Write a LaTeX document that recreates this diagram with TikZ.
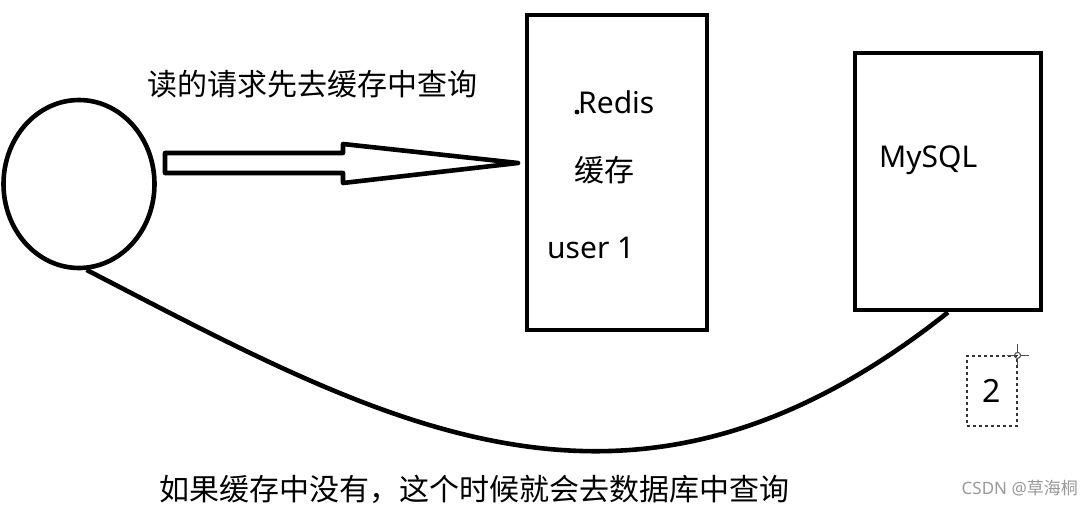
\documentclass[tikz,border=0pt]{standalone}
\usepackage{fontspec}
\setmainfont{Noto Sans}
\newfontfamily\cjk{Noto Sans CJK SC}
\usetikzlibrary{shapes.geometric}
\begin{document}
\begin{tikzpicture}[x=1pt,y=-1pt,
  thick line/.style={line width=4.6pt},
  boxnode/.style={draw,thick line,rectangle,inner sep=0pt},
  bigtext/.style={inner sep=0pt,font=\fontsize{30}{36}\selectfont},
  cjktext/.style={inner sep=0pt,font=\cjk\fontsize{30}{36}\selectfont},
  hollowarrow/.style={draw,thick line,line join=round},
]
\useasboundingbox (0,0) rectangle (1082,504);
\fill[white] (0,0) rectangle (1082,504);

% client ellipse
\node[draw,thick line,ellipse,minimum width=151pt,minimum height=168pt,inner sep=0pt] (user) at (79,184) {};

% Redis box
\node[boxnode,minimum width=180pt,minimum height=315pt] (redis) at (617,172.5) {};
% MySQL box
\node[boxnode,minimum width=186pt,minimum height=257pt] (mysql) at (948,181.5) {};

% big hollow arrow
\coordinate (atail) at (165,163);
\coordinate (atip) at (518,163);
\draw[hollowarrow] ([yshift=10pt]atail) -- (343,153) -- (343,144) -- (atip)
  -- (343,183) -- (343,173) -- ([yshift=-10pt]atail) -- cycle;

% curve from client to MySQL
\draw[thick line] (user.275) .. controls (387,425) and (630,565) .. (mysql.south);

% texts
\node[cjktext,anchor=west] (t1) at (147,84) {读的请求先去缓存中查询};
\node[bigtext,anchor=base west] (tredis) at (578,113) {Redis};
\fill (577,112) circle (2.4pt);
\node[cjktext,anchor=west] (tcache) at (574,170) {缓存};
\node[bigtext,anchor=base west] (tuser) at (547,258) {user 1};
\node[bigtext,anchor=base west] (tmysql) at (879,167) {MySQL};
\node[cjktext,anchor=west] (t2) at (159,489) {如果缓存中没有，这个时候就会去数据库中查询};

% dashed label box
\node[draw=black!80,dashed,line width=1.2pt,minimum width=50pt,minimum height=70pt,inner sep=0pt,
  font=\fontsize{32}{36}\selectfont] (two) at (992,391) {2};
\draw[black!70,line width=1pt] (two.north east) circle (3pt);
\draw[black!70,line width=1pt] ([yshift=-11pt]two.north east) -- ([yshift=-3pt]two.north east)
  ([yshift=3pt]two.north east) -- ([yshift=11pt]two.north east)
  ([xshift=-11pt]two.north east) -- ([xshift=-3pt]two.north east)
  ([xshift=3pt]two.north east) -- ([xshift=11pt]two.north east);

% watermark
\node[inner sep=0pt,anchor=east,text=black!40,font=\fontsize{17}{20}\selectfont] (wm) at (1078,488) {CSDN @{\cjk 草海桐}};
\end{tikzpicture}
\end{document}
